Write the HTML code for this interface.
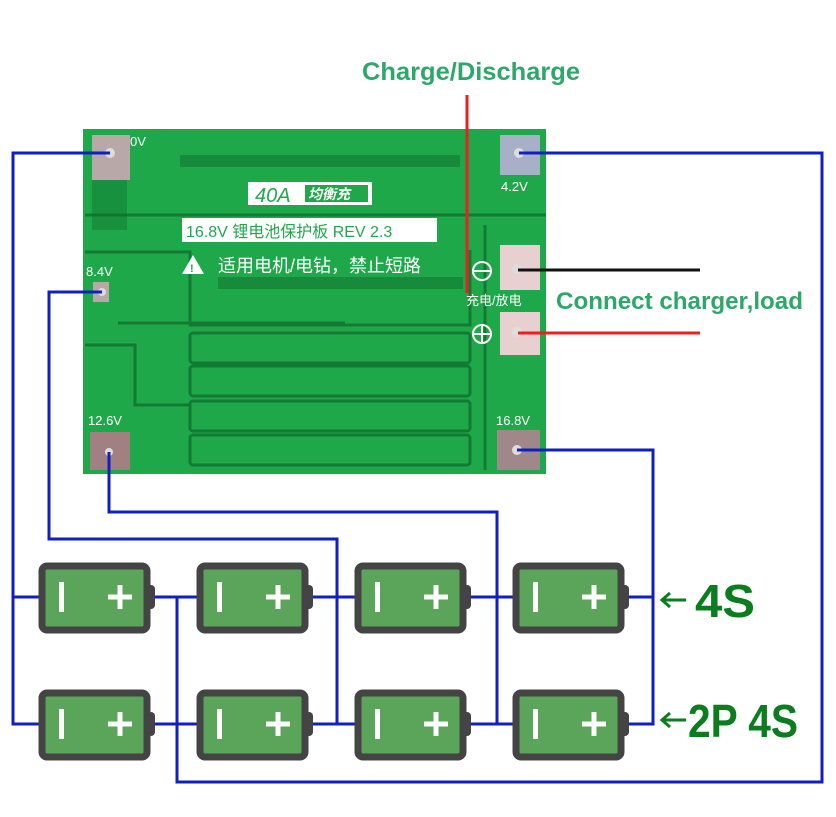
<!DOCTYPE html>
<html><head><meta charset="utf-8"><style>
html,body{margin:0;padding:0;background:#fff;}
svg{display:block;}
</style></head><body>
<svg width="836" height="817" viewBox="0 0 836 817" xmlns="http://www.w3.org/2000/svg" font-family="Liberation Sans, Noto Sans CJK SC, sans-serif">
<rect width="836" height="817" fill="#fff"/>
<!-- PCB -->
<rect x="83" y="129" width="463" height="345" fill="#1fa84a"/>
<g fill="none" stroke="#137a33" stroke-width="3">
<path d="M85 252 H190 V325 H470 V250"/>
<path d="M85 345 H135 V405 H190"/>
<path d="M85 215 H546"/>
<rect x="190" y="333" width="280" height="30" rx="3"/>
<rect x="190" y="366" width="280" height="30" rx="3"/>
<rect x="190" y="401" width="280" height="30" rx="3"/>
<rect x="190" y="435" width="280" height="30" rx="3"/>
<path d="M118 323 H345"/>
<path d="M485 225 V470"/>
</g>
<g fill="#0f6e2c">
<rect x="180" y="155" width="280" height="12" opacity="0.5"/>
<rect x="218" y="277" width="245" height="12" opacity="0.5"/>
<rect x="92" y="180" width="35" height="50" opacity="0.4"/>
</g>
<!-- white labels -->
<rect x="248" y="182" width="124" height="23" fill="#fff"/>
<text x="255" y="202" font-size="20" font-style="italic" fill="#1fa84a">40A</text>
<rect x="305" y="185" width="63" height="17" fill="#1fa84a"/>
<text x="308" y="199" font-size="14" font-weight="bold" font-style="italic" fill="#fff">均衡充</text>
<rect x="182" y="218" width="255" height="24" fill="#fff"/>
<text x="186" y="237" font-size="16" fill="#1fa84a">16.8V 锂电池保护板 REV 2.3</text>
<polygon points="182,274 193,255 204,274" fill="#fff"/>
<text x="190" y="272" font-size="11" font-weight="bold" fill="#1fa84a">!</text>
<text x="218" y="272" font-size="18" fill="#fff">适用电机/电钻，禁止短路</text>
<!-- pads -->
<g fill="#b8a8a8">
<rect x="92" y="135" width="38" height="45"/>
<rect x="500" y="135" width="40" height="40" fill="#a8b0c8"/>
<rect x="500" y="245" width="40" height="45" fill="#e8d0d0"/>
<rect x="500" y="312" width="40" height="43" fill="#e8d0d0"/>
<rect x="93" y="282" width="16" height="20"/>
<rect x="90" y="432" width="40" height="38" fill="#a08080"/>
<rect x="497" y="430" width="43" height="40" fill="#a08888"/>
</g>
<g fill="#ddd"><circle cx="110" cy="153" r="5"/><circle cx="519" cy="153" r="5"/><circle cx="517" cy="269" r="5"/><circle cx="517" cy="332" r="5"/><circle cx="102" cy="292" r="4"/><circle cx="109" cy="452" r="4"/><circle cx="517" cy="450" r="5"/></g>
<g fill="#fff" font-size="13">
<text x="130" y="146">0V</text>
<text x="501" y="191">4.2V</text>
<text x="86" y="276">8.4V</text>
<text x="88" y="425">12.6V</text>
<text x="496" y="425">16.8V</text>
<text x="466" y="305" font-size="13">充电/放电</text>
</g>
<g fill="none" stroke="#fff" stroke-width="2"><circle cx="482" cy="271" r="9"/><path d="M474 271 H490"/><circle cx="482" cy="334" r="9"/><path d="M474 334 H490 M482 326 V342"/></g>
<!-- annotations -->
<text x="362" y="80" font-size="25" font-weight="bold" fill="#2ea86a" textLength="218" lengthAdjust="spacingAndGlyphs">Charge/Discharge</text>
<text x="556" y="309" font-size="24" font-weight="bold" fill="#2ea86a" textLength="247" lengthAdjust="spacingAndGlyphs">Connect charger,load</text>
<line x1="467" y1="95" x2="467" y2="293" stroke="#e8211f" stroke-width="3"/>
<line x1="518" y1="270" x2="700" y2="270" stroke="#111" stroke-width="3"/>
<line x1="518" y1="333" x2="700" y2="333" stroke="#e8211f" stroke-width="3"/>
<!-- blue wires -->
<g fill="none" stroke="#0f1fc0" stroke-width="3">
<path d="M110 153 H13 V724 H653 V450 H517"/>
<path d="M13 597 H653"/>
<path d="M519 153 H822 V782 H177 V597"/>
<path d="M102 292 H49 V539 H337 V724"/>
<path d="M109 452 V512 H497 V724"/>
</g>
<!-- batteries -->
<g id="b">
<rect x="42" y="566" width="105" height="64" rx="5" fill="#5aa55a" stroke="#444" stroke-width="7"/>
<rect x="145" y="585" width="10" height="24" rx="4" fill="#444"/>
<rect x="59" y="582" width="5" height="30" fill="#fff"/>
<path d="M108 597 H132 M120 585 V609" stroke="#fff" stroke-width="5"/>
</g>
<use href="#b" x="158"/><use href="#b" x="316"/><use href="#b" x="474"/>
<use href="#b" y="127"/><use href="#b" x="158" y="127"/><use href="#b" x="316" y="127"/><use href="#b" x="474" y="127"/>
<g fill="none" stroke="#0a7d1e" stroke-width="3">
<path d="M662 600 H686 M670 593 L662 600 L670 607"/>
<path d="M662 720 H686 M670 713 L662 720 L670 727"/>
</g>
<g fill="#0a7d1e" font-weight="bold" font-size="46">
<text x="695" y="617" textLength="60" lengthAdjust="spacingAndGlyphs">4S</text>
<text x="688" y="737" textLength="110" lengthAdjust="spacingAndGlyphs">2P 4S</text>
</g>
</svg>
</body></html>
